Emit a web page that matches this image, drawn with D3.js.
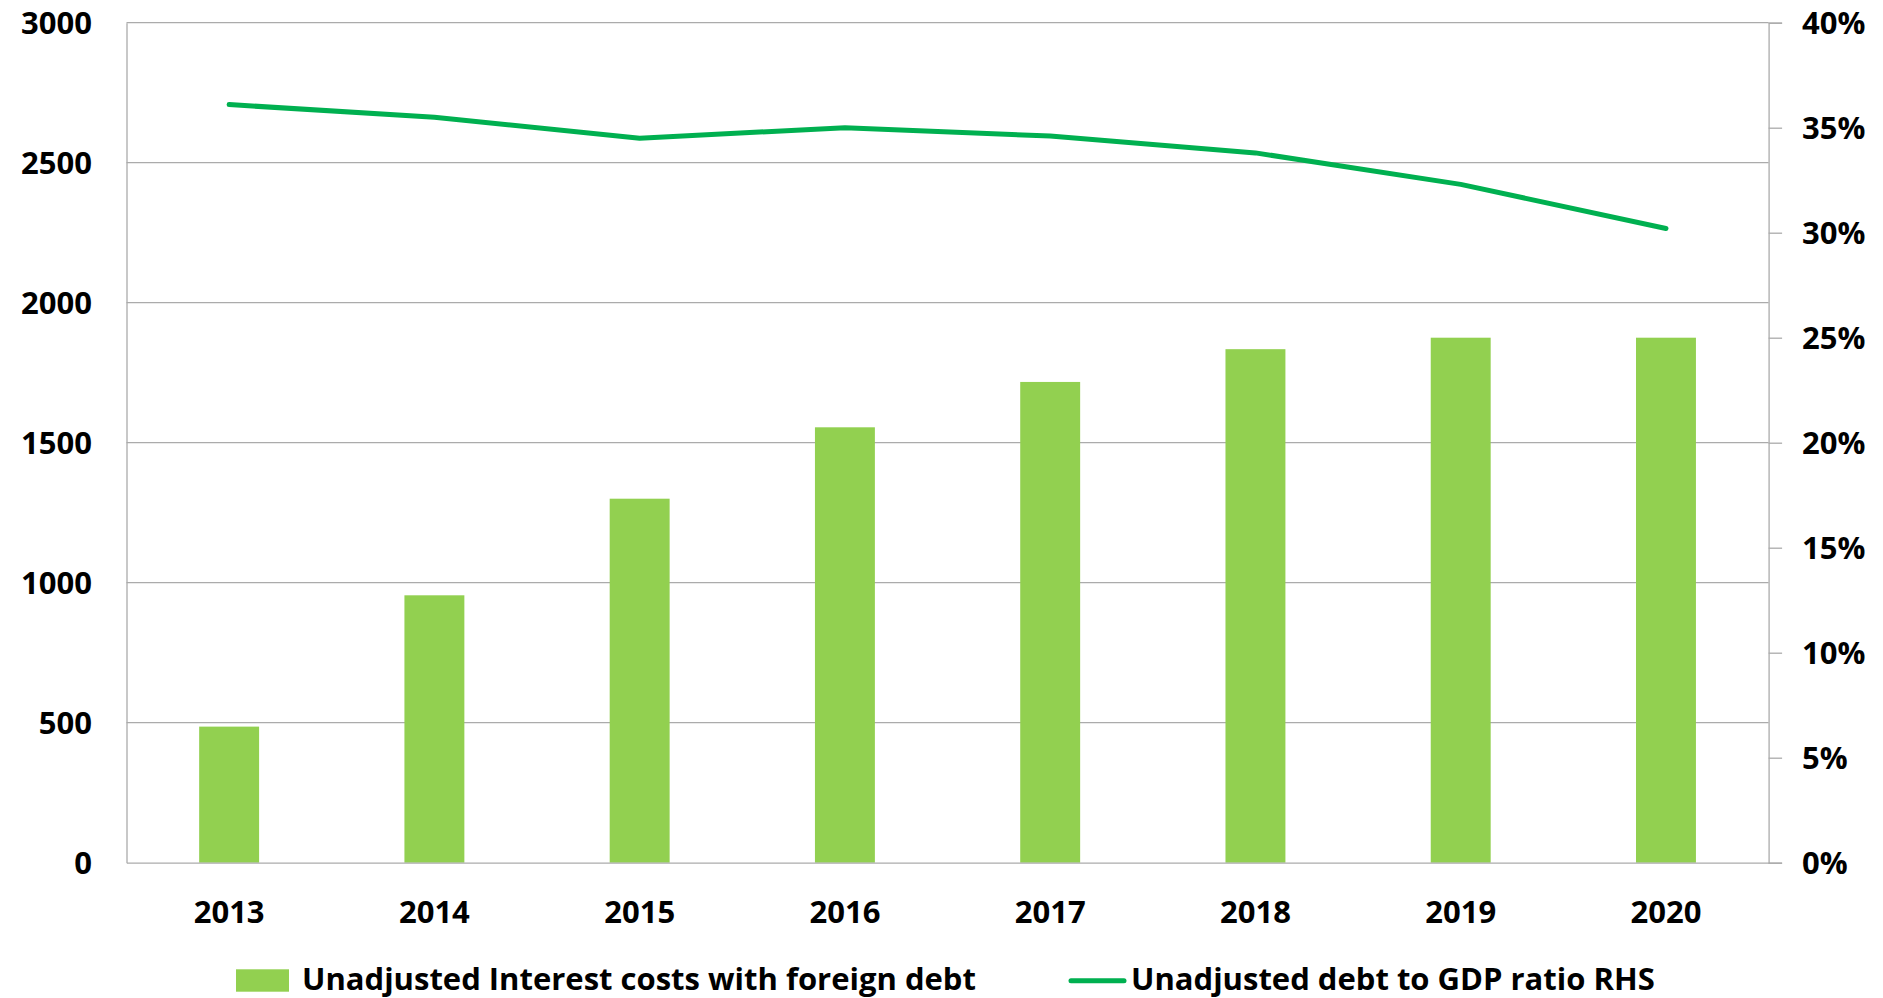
<!DOCTYPE html>
<html>
<head>
<meta charset="utf-8">
<script src="https://cdn.jsdelivr.net/npm/d3@7"></script>
<style>
  html, body { margin: 0; padding: 0; background: #fff; }
  svg { display: block; }
  text { font-family: "Open Sans", Lato, sans-serif; font-weight: bold; fill: #000; }
</style>
</head>
<body>
<svg id="chart"></svg>
<script>
// data
var years = ["2013", "2014", "2015", "2016", "2017", "2018", "2019", "2020"];
var interestCosts = [486, 955, 1300, 1555, 1717, 1834, 1875, 1875];
var debtToGdp = [36.1, 35.5, 34.5, 35.0, 34.6, 33.8, 32.3, 30.2];
var leftTicks = [0, 500, 1000, 1500, 2000, 2500, 3000];
var rightTicks = [0, 5, 10, 15, 20, 25, 30, 35, 40];
var barName = "Unadjusted Interest costs with foreign debt";
var lineName = "Unadjusted debt to GDP ratio RHS";

var width = 1883, height = 998;
var plotL = 126.5, plotR = 1768.6, plotT = 22.7, plotB = 862.7;
var barColor = "#92d050", lineColor = "#00b050", gridColor = "#ababab";
var fs = "31px";

var svg = d3.select("#chart")
    .attr("width", width)
    .attr("height", height);

var x = d3.scaleBand().domain(years).range([plotL, plotR]).padding(0);
var yL = d3.scaleLinear().domain([0, 3000]).range([plotB, plotT]);
var yR = d3.scaleLinear().domain([0, 40]).range([plotB, plotT]);
var barW = x.bandwidth() * 0.292;

// gridlines
svg.append("g")
    .selectAll("line")
    .data(leftTicks.slice(1))
    .join("line")
    .attr("x1", plotL).attr("x2", plotR)
    .attr("y1", function(d){ return yL(d); })
    .attr("y2", function(d){ return yL(d); })
    .attr("stroke", gridColor)
    .attr("stroke-width", 1.3);

// bars
svg.append("g")
    .selectAll("rect")
    .data(interestCosts)
    .join("rect")
    .attr("x", function(d, i){ return x(years[i]) + (x.bandwidth() - barW) / 2; })
    .attr("y", function(d){ return yL(d); })
    .attr("width", barW)
    .attr("height", function(d){ return plotB - yL(d); })
    .attr("fill", barColor);

// left axis
var axL = svg.append("g")
    .attr("transform", "translate(" + plotL + ",0)")
    .call(d3.axisLeft(yL).tickValues(leftTicks).tickSize(0).tickPadding(34.5)
        .tickFormat(d3.format("d")));
axL.select(".domain").attr("stroke", gridColor).attr("stroke-width", 1.3);
axL.selectAll("text").style("font-size", fs).attr("dy", "0.36em");

// right axis
var axR = svg.append("g")
    .attr("transform", "translate(" + plotR + ",0)")
    .call(d3.axisRight(yR).tickValues(rightTicks).tickSize(13.5).tickPadding(20)
        .tickFormat(function(d){ return d + "%"; }));
axR.select(".domain").attr("stroke", gridColor).attr("stroke-width", 1.3);
axR.selectAll(".tick line").attr("stroke", gridColor).attr("stroke-width", 1.3);
axR.selectAll("text").style("font-size", fs).attr("dy", "0.36em");

// bottom axis
var axB = svg.append("g")
    .attr("transform", "translate(0," + plotB + ")")
    .call(d3.axisBottom(x).tickSize(0).tickPadding(49));
axB.select(".domain").attr("stroke", gridColor).attr("stroke-width", 1.3);
axB.selectAll("text").style("font-size", fs).attr("dy", "0.36em");

// line
var line = d3.line()
    .x(function(d, i){ return x(years[i]) + x.bandwidth() / 2; })
    .y(function(d){ return yR(d); });
svg.append("path")
    .datum(debtToGdp)
    .attr("d", line)
    .attr("fill", "none")
    .attr("stroke", lineColor)
    .attr("stroke-width", 5)
    .attr("stroke-linecap", "round")
    .attr("stroke-linejoin", "round");

// legend
var lg = svg.append("g");
lg.append("rect")
    .attr("x", 236).attr("y", 969.3)
    .attr("width", 53).attr("height", 22.4)
    .attr("fill", barColor);
lg.append("text")
    .attr("x", 302).attr("y", 989.5)
    .style("font-size", fs)
    .text(barName);
lg.append("line")
    .attr("x1", 1071).attr("x2", 1124)
    .attr("y1", 980.7).attr("y2", 980.7)
    .attr("stroke", lineColor)
    .attr("stroke-width", 5)
    .attr("stroke-linecap", "round");
lg.append("text")
    .attr("x", 1131).attr("y", 989.5)
    .style("font-size", fs)
    .text(lineName);
</script>
</body>
</html>
